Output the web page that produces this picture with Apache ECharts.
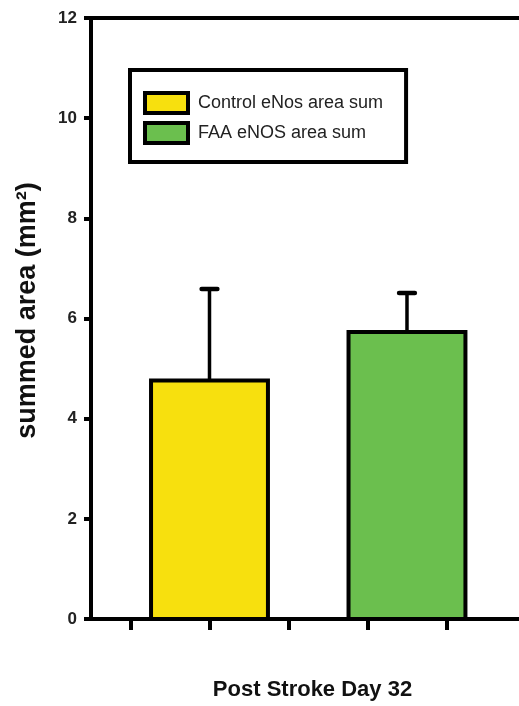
<!DOCTYPE html>
<html>
<head>
<meta charset="utf-8">
<style>
  html, body { margin: 0; padding: 0; background: #fff; }
  #chart { width: 519px; height: 706px; }
</style>
<script src="https://cdn.jsdelivr.net/npm/echarts@6/dist/echarts.min.js"></script>
</head>
<body>
<div id="chart"></div>
<script>
// Group names, means and upper error-bar ends (mm²)
const groups = ['Control eNos area sum', 'FAA eNOS area sum'];
const means = [4.76, 5.73];
const errorTops = [6.59, 6.51];
const yTicks = [0, 2, 4, 6, 8, 10, 12];
const xTickValues = [1, 2, 3, 4, 5];

// Layout of the groups along the horizontal axis
const slots = [2, 4.5];
const barSpan = 1.48;      // bar width in axis units
const capSpan = 0.2;       // error cap width in axis units
const colors = ['#F7E00E', '#6BBF4E'];
const FONT = "'Liberation Sans', Arial, sans-serif";

const chart = echarts.init(document.getElementById('chart'), null, { renderer: 'canvas' });

function renderBar(params, api) {
  const x = api.value(0);
  const v = api.value(1);
  const top = api.value(2);
  const tl = api.coord([x - barSpan / 2, v]);
  const br = api.coord([x + barSpan / 2, 0]);
  const eTop = api.coord([x, top]);
  const capL = api.coord([x - capSpan / 2, top]);
  const capR = api.coord([x + capSpan / 2, top]);
  const color = colors[params.seriesIndex];
  return {
    type: 'group',
    children: [
      {
        type: 'line',
        shape: { x1: eTop[0], y1: tl[1], x2: eTop[0], y2: eTop[1] },
        style: { stroke: '#000', lineWidth: 3.5 }
      },
      {
        type: 'line',
        shape: { x1: capL[0], y1: capL[1], x2: capR[0], y2: capR[1] },
        style: { stroke: '#000', lineWidth: 4.5, lineCap: 'round' }
      },
      {
        type: 'rect',
        shape: { x: tl[0], y: tl[1], width: br[0] - tl[0], height: br[1] - tl[1] },
        style: { fill: color, stroke: '#000', lineWidth: 4 }
      }
    ]
  };
}

const series = groups.map((name, i) => ({
  name: name,
  type: 'custom',
  xAxisIndex: 0,
  yAxisIndex: 0,
  renderItem: renderBar,
  itemStyle: { color: colors[i] },
  data: [[slots[i], means[i], errorTops[i]]],
  z: 3
}));

const xMin = 0.5;
const xMax = 5.918;

chart.setOption({
  animation: false,
  backgroundColor: '#fff',
  textStyle: { fontFamily: FONT },
  grid: { left: 91, right: 0, top: 18, bottom: 85, containLabel: false },
  legend: {
    orient: 'vertical',
    left: 130,
    top: 70,
    padding: [21, 23, 17, 13],
    borderColor: '#000',
    borderWidth: 4,
    backgroundColor: '#fff',
    itemWidth: 43,
    itemHeight: 20,
    itemGap: 6,
    icon: 'rect',
    selectedMode: false,
    textStyle: { fontFamily: FONT, fontSize: 18, color: '#222', padding: [0, 0, 0, 5] },
    data: groups.map((name, i) => ({
      name: name,
      itemStyle: { color: colors[i], borderColor: '#000', borderWidth: 4 }
    }))
  },
  xAxis: [
    {
      type: 'value',
      position: 'bottom',
      min: xMin,
      max: xMax,
      splitLine: { show: false },
      axisLine: { show: true, onZero: false, lineStyle: { color: '#000', width: 4 } },
      axisTick: { show: true, customValues: xTickValues, length: 11, lineStyle: { color: '#000', width: 4 } },
      axisLabel: { show: false },
      name: 'Post Stroke Day 32',
      nameLocation: 'middle',
      nameGap: 60,
      nameTextStyle: { fontFamily: FONT, fontSize: 22, fontWeight: 'bold', color: '#111', padding: [0, 0, 0, 15] }
    },
    {
      type: 'value',
      position: 'top',
      min: xMin,
      max: xMax,
      splitLine: { show: false },
      axisLine: { show: true, onZero: false, lineStyle: { color: '#000', width: 4 } },
      axisTick: { show: false },
      axisLabel: { show: false }
    }
  ],
  yAxis: {
    type: 'value',
    min: yTicks[0],
    max: yTicks[yTicks.length - 1],
    interval: 2,
    splitLine: { show: false },
    axisLine: { show: true, lineStyle: { color: '#000', width: 4 } },
    axisTick: { show: true, length: 7, lineStyle: { color: '#000', width: 4 } },
    axisLabel: { fontFamily: FONT, fontSize: 17, fontWeight: 'bold', color: '#222', margin: 14 },
    name: 'summed area (mm²)',
    nameLocation: 'middle',
    nameRotate: 90,
    nameGap: 50,
    nameTextStyle: { fontFamily: FONT, fontSize: 27, fontWeight: 'bold', color: '#111', padding: [0, 0, 0, 16] }
  },
  series: series
});
</script>
</body>
</html>
